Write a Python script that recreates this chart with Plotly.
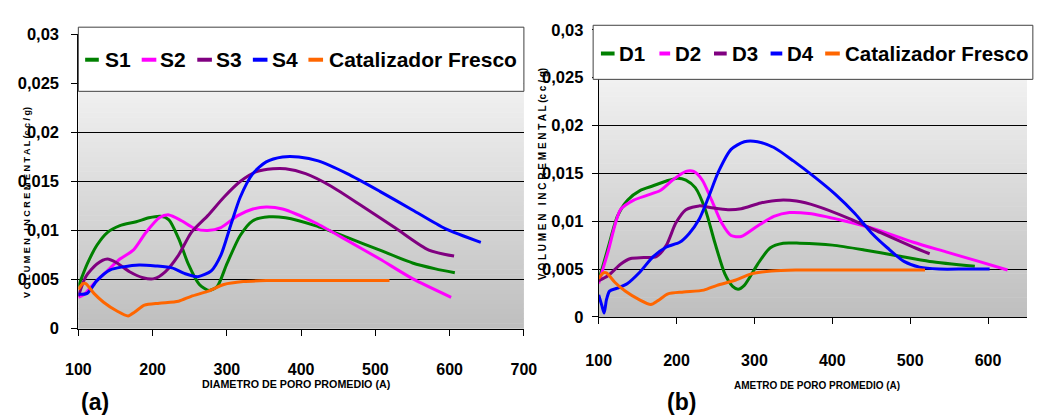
import plotly.graph_objects as go

# ---------------- data ----------------
S_names = ["S1", "S2", "S3", "S4", "Catalizador Fresco"]
D_names = ["D1", "D2", "D3", "D4", "Catalizador Fresco"]

S1_x = [100, 112, 125, 139, 156, 178, 195, 211, 222, 235, 248, 263, 276, 287, 300, 318, 335, 357, 379, 419, 462, 506, 550, 581, 607]
S1_y = [0.0043, 0.0066, 0.0085, 0.0098, 0.0105, 0.0109, 0.0113, 0.01145, 0.0111, 0.0092, 0.0066, 0.0045, 0.0039, 0.0043, 0.0066, 0.0095, 0.0110, 0.0114, 0.0113, 0.0105, 0.0093, 0.0080, 0.0067, 0.0061, 0.0057]

S2_x = [100, 108, 121, 139, 156, 174, 191, 209, 222, 239, 257, 274, 292, 314, 335, 353, 375, 419, 462, 506, 550, 602]
S2_y = [0.0032, 0.0035, 0.0046, 0.0059, 0.0071, 0.0080, 0.0098, 0.0113, 0.0116, 0.0110, 0.0102, 0.0100, 0.0103, 0.0115, 0.0122, 0.0124, 0.0122, 0.0108, 0.0090, 0.0071, 0.0051, 0.0032]

S3_x = [100, 110, 125, 139, 152, 169, 187, 202, 217, 235, 252, 274, 296, 318, 340, 362, 379, 406, 441, 484, 528, 572, 606]
S3_y = [0.0033, 0.0053, 0.0066, 0.0071, 0.0067, 0.0058, 0.0052, 0.0051, 0.0058, 0.0075, 0.0098, 0.0115, 0.0134, 0.0150, 0.0160, 0.0163, 0.0163, 0.0158, 0.0145, 0.0124, 0.0102, 0.0080, 0.0074]

S4_x = [100, 112, 125, 143, 160, 182, 204, 226, 244, 261, 279, 292, 305, 318, 335, 353, 375, 397, 423, 462, 506, 550, 594, 642]
S4_y = [0.0035, 0.0036, 0.0049, 0.0060, 0.0063, 0.0065, 0.0064, 0.0062, 0.0056, 0.0053, 0.0059, 0.0075, 0.0105, 0.0134, 0.0158, 0.0170, 0.0175, 0.0175, 0.0171, 0.0158, 0.0140, 0.0121, 0.0102, 0.0088]

Fresh_x = [100, 106, 110, 121, 134, 152, 167, 176, 189, 209, 235, 252, 274, 296, 322, 353, 397, 441, 519]
Fresh_y = [0.0040, 0.0046, 0.0046, 0.0036, 0.0027, 0.0018, 0.0013, 0.0017, 0.0024, 0.0026, 0.0028, 0.0033, 0.0038, 0.0045, 0.0048, 0.0049, 0.0049, 0.0049, 0.0049]

D1_x = [100, 112, 124, 137, 153, 170, 187, 201, 212, 224, 237, 249, 262, 272, 279, 287, 304, 320, 337, 358, 400, 441, 483, 525, 583]
D1_y = [0.0038, 0.0072, 0.0105, 0.0122, 0.0132, 0.0137, 0.0142, 0.0145, 0.0143, 0.0135, 0.0112, 0.0078, 0.0045, 0.0032, 0.0029, 0.0033, 0.0055, 0.0072, 0.0077, 0.0077, 0.0075, 0.0070, 0.0064, 0.0058, 0.0053]

D2_x = [100, 112, 128, 145, 162, 179, 195, 212, 222, 233, 245, 258, 270, 283, 304, 325, 345, 370, 412, 454, 504, 546, 588, 625]
D2_y = [0.0035, 0.0068, 0.0112, 0.0122, 0.0127, 0.0132, 0.0143, 0.0152, 0.0152, 0.0143, 0.0122, 0.0098, 0.0085, 0.0084, 0.0095, 0.0105, 0.0109, 0.0108, 0.0101, 0.0092, 0.0078, 0.0068, 0.0058, 0.0049]

D3_x = [100, 112, 128, 141, 158, 174, 187, 199, 212, 229, 245, 266, 283, 308, 333, 354, 379, 421, 462, 504, 525]
D3_y = [0.0038, 0.0043, 0.0055, 0.0061, 0.0062, 0.0063, 0.0075, 0.0098, 0.0112, 0.0116, 0.0114, 0.0112, 0.0113, 0.0119, 0.0122, 0.0121, 0.0116, 0.0103, 0.0088, 0.0073, 0.0066]

D4_x = [100, 104, 107, 110, 114, 124, 137, 153, 170, 187, 204, 216, 229, 241, 254, 270, 287, 304, 325, 350, 379, 404, 429, 450, 471, 492, 512, 537, 571, 602]
D4_y = [0.0023, 0.0012, 0.0004, 0.0018, 0.0027, 0.0030, 0.0035, 0.0047, 0.0063, 0.0073, 0.0078, 0.0087, 0.0102, 0.0125, 0.0152, 0.0175, 0.0183, 0.0183, 0.0177, 0.0163, 0.0145, 0.0128, 0.0108, 0.0088, 0.0072, 0.0058, 0.0052, 0.0050, 0.0050, 0.0050]

y_tickvals = [0, 0.005, 0.01, 0.015, 0.02, 0.025, 0.03]
y_ticktext = ["0", "0,005", "0,01", "0,015", "0,02", "0,025", "0,03"]
xa_tickvals = [100, 200, 300, 400, 500, 600, 700]
xb_tickvals = [100, 200, 300, 400, 500, 600]

colors = ["#008000", "#FF00FF", "#800080", "#0000FF", "#FF6600"]

# ---------------- layout helpers ----------------
W, H = 1040, 420
FONT = "Liberation Sans Narrow, Arial Narrow, Liberation Sans, Arial, sans-serif"


def px(x):
    return x / W


def py(y):
    return 1 - y / H


fig = go.Figure()

left_series = [(S1_x, S1_y), (S2_x, S2_y), (S3_x, S3_y), (S4_x, S4_y), (Fresh_x, Fresh_y)]
right_series = [(D1_x, D1_y), (D2_x, D2_y), (D3_x, D3_y), (D4_x, D4_y), (Fresh_x, Fresh_y)]

for (xs, ys), name, c in zip(left_series, S_names, colors):
    fig.add_trace(go.Scatter(x=xs, y=ys, name=name, mode="lines",
                             line=dict(color=c, width=3, shape="spline", smoothing=0.7),
                             xaxis="x", yaxis="y", showlegend=False))
for (xs, ys), name, c in zip(right_series, D_names, colors):
    fig.add_trace(go.Scatter(x=xs, y=ys, name=name, mode="lines",
                             line=dict(color=c, width=3, shape="spline", smoothing=0.7),
                             xaxis="x2", yaxis="y2", showlegend=False))

axis_common = dict(showline=True, linecolor="black", linewidth=1, ticks="outside",
                   ticklen=6, tickcolor="black", zeroline=False, fixedrange=True)
tick_x_font = dict(family=FONT, size=16, color="black", weight="bold")
tick_y_font = dict(family=FONT, size=16.5, color="black", weight="bold")

fig.update_layout(
    width=W, height=H, autosize=False,
    margin=dict(l=0, r=0, t=0, b=0),
    paper_bgcolor="white", plot_bgcolor="rgba(0,0,0,0)",
    xaxis=dict(domain=[px(67), px(524)], range=[100, 700], tickvals=xa_tickvals,
               showgrid=False, anchor="y", ticklabelstandoff=20, tickfont=tick_x_font, **axis_common),
    yaxis=dict(domain=[py(334), py(26.5)], range=[0, 0.03], tickvals=y_tickvals, ticktext=y_ticktext,
               showgrid=True, gridcolor="black", gridwidth=1, anchor="x", ticklabelstandoff=9,
               tickfont=tick_y_font, **axis_common),
    xaxis2=dict(domain=[px(600.7), 1.0], range=[100, 650], tickvals=xb_tickvals,
                showgrid=False, anchor="y2", ticklabelstandoff=23, tickfont=tick_x_font, **axis_common),
    yaxis2=dict(domain=[py(321.7), py(21.7)], range=[0, 0.03], tickvals=y_tickvals, ticktext=y_ticktext,
                showgrid=True, gridcolor="black", gridwidth=1, anchor="x2", ticklabelstandoff=5,
                tickfont=tick_y_font, **axis_common),
)

# gradient plot-area background (light at top, grey at bottom)
shapes = []
N = 60
top_c, bot_c = 252, 190
for xr, yr in (("x domain", "y domain"), ("x2 domain", "y2 domain")):
    for i in range(N):
        f = (i + 0.5) / N
        g = int(round(bot_c + (top_c - bot_c) * f))
        shapes.append(dict(type="rect", xref=xr, yref=yr, x0=0, x1=1, y0=i / N, y1=(i + 1) / N + 0.002,
                           fillcolor=f"rgb({g},{g},{g})", line=dict(width=0), layer="below"))

# legend boxes
shapes.append(dict(type="rect", xref="paper", yref="paper", x0=px(67), x1=px(524), y0=py(86), y1=py(19),
                   fillcolor="white", line=dict(color="#404040", width=1), layer="above"))
shapes.append(dict(type="rect", xref="paper", yref="paper", x0=px(595), x1=px(1046), y0=py(73.5), y1=py(17),
                   fillcolor="white", line=dict(color="#404040", width=1), layer="above"))

annotations = []
left_sw = [(74, 88, 92), (132, 147, 149), (189, 204, 206), (246, 261, 264), (303, 318, 322)]
right_sw = [(603, 617, 619), (663, 674, 677), (719, 732, 735), (777, 789, 792), (833, 848, 851)]
for (x0, x1, tx), name, c in zip(left_sw, S_names, colors):
    shapes.append(dict(type="line", xref="paper", yref="paper", x0=px(x0), x1=px(x1), y0=py(53), y1=py(53),
                       line=dict(color=c, width=4), layer="above"))
    annotations.append(dict(xref="paper", yref="paper", x=px(tx), y=py(53), text=name, showarrow=False,
                            xanchor="left", yanchor="middle",
                            font=dict(family=FONT, size=21, color="black", weight="bold")))
for (x0, x1, tx), name, c in zip(right_sw, D_names, colors):
    shapes.append(dict(type="line", xref="paper", yref="paper", x0=px(x0), x1=px(x1), y0=py(46.5), y1=py(46.5),
                       line=dict(color=c, width=4), layer="above"))
    annotations.append(dict(xref="paper", yref="paper", x=px(tx), y=py(46), text=name, showarrow=False,
                            xanchor="left", yanchor="middle",
                            font=dict(family=FONT, size=20.5, color="black", weight="bold")))

ytitle = "V O L U M E N   I N C R E M E N T A L (c c / g)"
annotations += [
    dict(xref="paper", yref="paper", x=px(15), y=py(202), text=ytitle, textangle=-90, showarrow=False,
         xanchor="center", yanchor="middle", font=dict(family=FONT, size=9, color="black", weight="bold")),
    dict(xref="paper", yref="paper", x=px(543), y=py(172), text=ytitle, textangle=-90, showarrow=False,
         xanchor="center", yanchor="middle", font=dict(family=FONT, size=10, color="black", weight="bold")),
    dict(xref="paper", yref="paper", x=px(291), y=py(392), text="DIAMETRO DE PORO PROMEDIO (A)", showarrow=False,
         xanchor="center", yanchor="middle", font=dict(family=FONT, size=10.7, color="black", weight="bold")),
    dict(xref="paper", yref="paper", x=px(825), y=py(393), text="AMETRO DE PORO PROMEDIO (A)", showarrow=False,
         xanchor="center", yanchor="middle", font=dict(family=FONT, size=10, color="black", weight="bold")),
    dict(xref="paper", yref="paper", x=px(84), y=py(411), text="(a)", showarrow=False,
         xanchor="center", yanchor="middle", font=dict(family=FONT, size=23, color="black", weight="bold")),
    dict(xref="paper", yref="paper", x=px(686), y=py(411), text="(b)", showarrow=False,
         xanchor="center", yanchor="middle", font=dict(family=FONT, size=23, color="black", weight="bold")),
]

fig.update_layout(shapes=shapes, annotations=annotations)
fig.write_html("out.html")
